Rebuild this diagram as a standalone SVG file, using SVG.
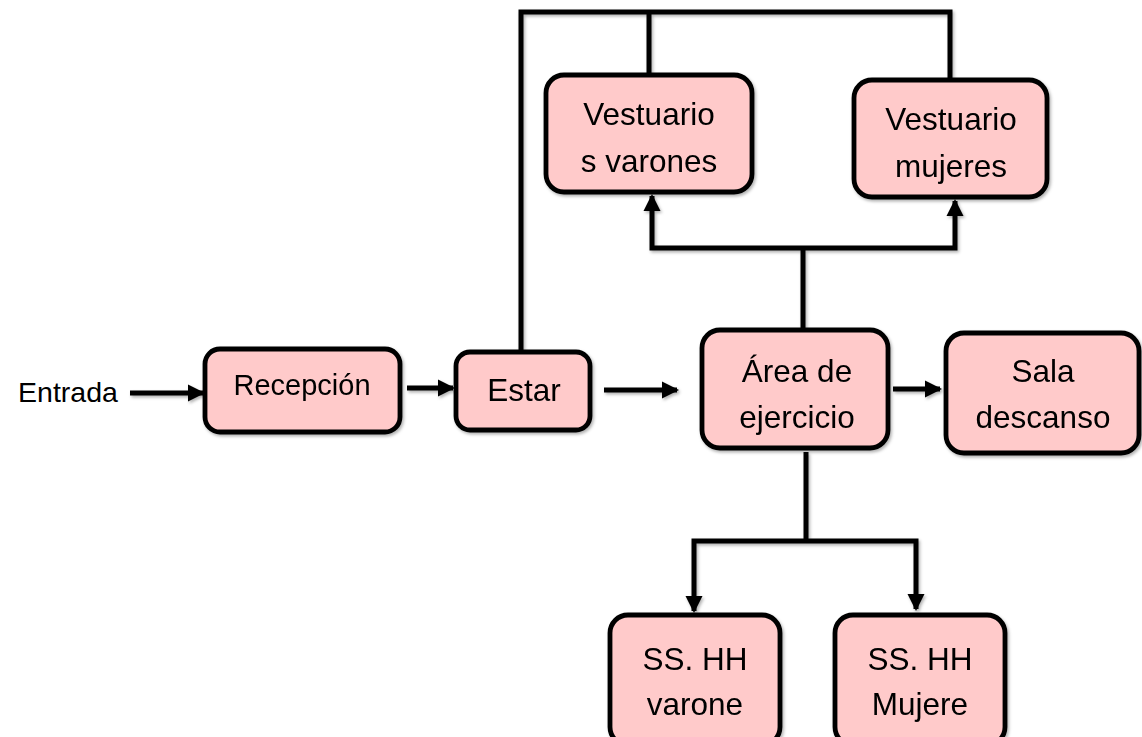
<svg xmlns="http://www.w3.org/2000/svg" width="1142" height="737" viewBox="0 0 1142 737">
<style>
.box{fill:#FFCACA;stroke:#000;stroke-width:4.8}
.t{font-family:"Liberation Sans",Arial,sans-serif;font-size:31.5px;fill:#000;text-anchor:middle}
.ln{fill:none;stroke:#000;stroke-width:5}
</style>
<defs>
<filter id="sh" x="-10%" y="-10%" width="130%" height="130%">
<feDropShadow dx="1.5" dy="2" stdDeviation="1.5" flood-color="#000" flood-opacity="0.3"/>
</filter>
<marker id="ah" markerWidth="17" markerHeight="18" refX="15" refY="9" orient="auto" markerUnits="userSpaceOnUse" viewBox="0 0 17 18">
<path d="M0,0.5 L17,9 L0,17.5 z" fill="#000"/>
</marker>
</defs>
<rect width="1142" height="737" fill="#fff"/>
<g id="connectors" filter="url(#sh)">
<path class="ln" d="M130,393 H203" marker-end="url(#ah)"/>
<path class="ln" d="M407,388 H453" marker-end="url(#ah)"/>
<path class="ln" d="M604,390 H677" marker-end="url(#ah)"/>
<path class="ln" d="M893,389 H940" marker-end="url(#ah)"/>
<path class="ln" d="M521,350 V12 H950 V80"/>
<path class="ln" d="M649,12 V75"/>
<path class="ln" d="M803,330 V248"/>
<path class="ln" d="M803,248 H652 V196" marker-end="url(#ah)"/>
<path class="ln" d="M803,248 H955 V201" marker-end="url(#ah)"/>
<path class="ln" d="M806,452 V541"/>
<path class="ln" d="M806,541 H694 V611" marker-end="url(#ah)"/>
<path class="ln" d="M806,541 H916 V609" marker-end="url(#ah)"/>
</g>
<g id="entrada"><text class="t" x="68" y="402" style="font-size:28.5px">Entrada</text></g>
<g id="recepcion" filter="url(#sh)"><rect class="box" x="205" y="349" width="195" height="83" rx="15"/><text class="t" x="302" y="395" style="font-size:29px">Recepción</text></g>
<g id="estar" filter="url(#sh)"><rect class="box" x="456" y="352" width="134" height="78" rx="14"/><text class="t" x="524" y="401">Estar</text></g>
<g id="area" filter="url(#sh)"><rect class="box" x="702" y="330" width="186" height="118" rx="18"/><text class="t" x="797" y="382">Área de</text><text class="t" x="797" y="428">ejercicio</text></g>
<g id="sala" filter="url(#sh)"><rect class="box" x="946" y="333" width="193" height="120" rx="18"/><text class="t" x="1043" y="382">Sala</text><text class="t" x="1043" y="428">descanso</text></g>
<g id="vest-varones" filter="url(#sh)"><rect class="box" x="546" y="75" width="206" height="117" rx="18"/><text class="t" x="649" y="125">Vestuario</text><text class="t" x="649" y="172">s varones</text></g>
<g id="vest-mujeres" filter="url(#sh)"><rect class="box" x="854" y="80" width="193" height="117" rx="18"/><text class="t" x="951" y="130">Vestuario</text><text class="t" x="951" y="177">mujeres</text></g>
<g id="sshh-varones" filter="url(#sh)"><rect class="box" x="610" y="615" width="170" height="130" rx="18"/><text class="t" x="695" y="670">SS. HH</text><text class="t" x="695" y="715">varone</text></g>
<g id="sshh-mujeres" filter="url(#sh)"><rect class="box" x="835" y="615" width="170" height="130" rx="18"/><text class="t" x="920" y="670">SS. HH</text><text class="t" x="920" y="715">Mujere</text></g>
</svg>
